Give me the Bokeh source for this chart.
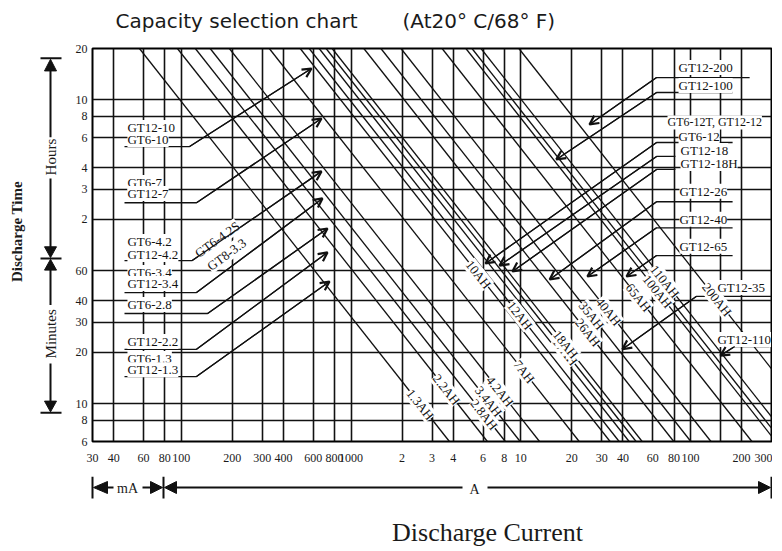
import math
from bokeh.plotting import figure
from bokeh.layouts import column, row
from bokeh.models import FixedTicker, Range1d, Arrow, OpenHead, ColumnDataSource
from bokeh.embed import file_html
from bokeh.resources import INLINE
from bokeh.core.properties import value

SERIF = "Liberation Serif"
SANS = "DejaVu Sans"

# ---------------- axis data ----------------
x_ticks = [0.03, 0.04, 0.06, 0.08, 0.1, 0.2, 0.3, 0.4, 0.6, 0.8, 1, 2, 3, 4, 6, 8,
           10, 20, 30, 40, 60, 80, 100, 200, 300]
x_tick_labels = ["30", "40", "60", "80", "100", "200", "300", "400", "600", "800", "1000",
                 "2", "3", "4", "6", "8", "10", "20", "30", "40", "60", "80", "100", "200", "300"]
x_extra_grid = [150]
y_ticks = [6, 8, 10, 20, 30, 40, 60, 120, 180, 240, 360, 480, 600, 1200]   # minutes
y_tick_labels = ["6", "8", "10", "20", "30", "40", "60", "2", "3", "4", "6", "8", "10", "20"]

# ---------------- capacity lines (A at 20 h, A at 6 min) ----------------
cap_names = ["1.3AH", "2.2AH", "2.8AH", "3.4AH", "4.2AH", "7AH", "10AH", "12AH", "",
             "17AH", "18AH", "26AH", "35AH", "40AH", "65AH", "100AH", "", "110AH", "200AH"]
cap_i_20h = [0.0567, 0.0949, 0.121, 0.148, 0.192, 0.330, 0.502, 0.567, 0.649,
             0.713, 0.774, 1.19, 1.50, 1.97, 3.44, 4.75, 5.16, 5.83, 9.75]
cap_i_6min = [3.80, 6.36, 8.11, 9.92, 12.9, 22.1, 33.6, 38.0, 43.5,
              47.8, 51.9, 79.7, 100.5, 132, 230, 318, 346, 391, 653]
cap_label_t = [9.88, 12.1, 8.63, 10.3, 11.8, 15.4, 57, 32.8, None,
               20.2, 22.2, 26.1, 32.8, 34.6, 41.8, 45.4, None, 51.9, 40.7]

# ---------------- model labels (left group) ----------------
left_text = ["GT12-10", "GT6-10", "GT6-7", "GT12-7", "GT6-4.2", "GT12-4.2", "GT6-3.4",
             "GT12-3.4", "GT6-2.8", "GT12-2.2", "GT6-1.3", "GT12-1.3"]
left_i = [0.0482] * 12
left_t = [413, 352, 197, 170, 89, 74.7, 58.6, 50.5, 38.0, 23.1, 18.4, 15.8]
rot_text = ["GT6-4.2S", "GT8-3.3"]
rot_i = [0.163, 0.185]
rot_t = [91.4, 74.7]
left_lead_i = [[0.0463, 0.112, 0.585], [0.0463, 0.123, 0.670], [0.0463, 0.116, 0.670],
               [0.0463, 0.123, 0.679], [0.0463, 0.143, 0.727], [0.0463, 0.123, 0.727],
               [0.0463, 0.123, 0.747]]
left_lead_t = [[320, 320, 916], [150, 150, 467], [68.8, 68.8, 229], [44.7, 44.7, 159],
               [33.7, 33.7, 106], [20.8, 20.8, 76.8], [14.4, 14.4, 51.9]]

# ---------------- model labels (right group) ----------------
right_text = ["GT12-200", "GT12-100", "GT6-12", "GT12-18", "GT12-18H",
              "GT12-26", "GT12-40", "GT12-65", "GT12-35", "GT12-110"]
right_i = [85.0, 85.0, 85.0, 87.3, 87.3, 86.1, 86.1, 86.1, 144, 144]
right_t = [929, 728, 366, 303, 255, 175, 120, 83.3, 47.8, 23.7]
wide_text = ["GT6-12T, GT12-12"]
wide_i = [73.2]
wide_t = [443]
right_lead_i = [[223, 63.1, 25.4], [177, 63.1, 16.2], [177, 63.1, 6.20], [81.5, 63.1, 7.50],
                [81.5, 63.1, 8.93], [177, 63.1, 14.8], [177, 63.1, 24.7], [177, 63.1, 42.0],
                [300, 108, 39.7], [292, 182, 150]]
right_lead_t = [[811, 811, 431], [663, 663, 269], [338, 338, 66.2], [280, 280, 64.3],
                [235, 235, 59.4], [152, 152, 53.3], [107, 107, 55.5], [73.6, 73.6, 55.5],
                [42.4, 42.4, 20.8], [21.6, 21.6, 19.1]]

# ================= main chart =================
p = figure(width=705, height=438, x_axis_type="log", y_axis_type="log",
           x_range=Range1d(0.03, 300), y_range=Range1d(6, 1200),
           toolbar_location=None, output_backend="svg", title=None,
           min_border_left=25, min_border_right=1, min_border_top=10, min_border_bottom=35)
p.background_fill_color = "white"
p.border_fill_color = "white"
p.outline_line_color = "black"
p.outline_line_width = 2
p.outline_line_alpha = 1

p.xaxis.ticker = FixedTicker(ticks=x_ticks, minor_ticks=[])
p.xaxis.major_label_overrides = dict(zip(x_ticks, x_tick_labels))
p.yaxis.ticker = FixedTicker(ticks=y_ticks, minor_ticks=[])
p.yaxis.major_label_overrides = dict(zip(y_ticks, y_tick_labels))
for ax in (p.xaxis[0], p.yaxis[0]):
    ax.axis_line_color = None
    ax.major_tick_line_color = None
    ax.minor_tick_line_color = None
    ax.major_tick_out = 0
    ax.major_tick_in = 0
    ax.minor_tick_out = 0
    ax.minor_tick_in = 0
    ax.major_label_text_font = SERIF
    ax.major_label_text_font_size = "12px"
    ax.major_label_text_color = "#1a1a1a"
p.xaxis.major_label_standoff = 12
p.yaxis.major_label_standoff = 5

p.xgrid.ticker = FixedTicker(ticks=x_ticks + x_extra_grid, minor_ticks=[])
p.ygrid.ticker = FixedTicker(ticks=y_ticks, minor_ticks=[])
for g in (p.xgrid[0], p.ygrid[0]):
    g.grid_line_color = "#111111"
    g.grid_line_width = 1.6
    g.grid_line_alpha = 1

# capacity lines
cap_src = ColumnDataSource(dict(
    xs=[[a, b] for a, b in zip(cap_i_20h, cap_i_6min)],
    ys=[[1200, 6] for _ in cap_i_20h],
    name=cap_names))
p.multi_line(xs="xs", ys="ys", source=cap_src, line_color="#111111", line_width=1.3)

# leaders
p.multi_line(xs=left_lead_i + right_lead_i, ys=left_lead_t + right_lead_t,
             line_color="#111111", line_width=1.3)

# capacity labels, on their lines
L6, L1200 = math.log10(6), math.log10(1200)
lab_x, lab_y, lab_t = [], [], []
for k, name in enumerate(cap_names):
    if not name:
        continue
    t = cap_label_t[k]
    f = (L1200 - math.log10(t)) / (L1200 - L6)
    li = math.log10(cap_i_20h[k]) + f * (math.log10(cap_i_6min[k]) - math.log10(cap_i_20h[k]))
    lab_x.append(10 ** li)
    lab_y.append(t)
    lab_t.append(name)
p.text(x=lab_x, y=lab_y, text=lab_t, angle=-0.90, text_font=value(SERIF),
       text_font_size=value("13px"), text_align="center", text_baseline="middle",
       text_color="#111111", background_fill_color="white")

# model labels
p.text(x=left_i, y=left_t, text=left_text, text_font=value(SERIF),
       text_font_size=value("13px"), text_align="left", text_baseline="middle",
       text_color="#111111", background_fill_color="white")
p.text(x=rot_i, y=rot_t, text=rot_text, angle=0.63, text_font=value(SERIF),
       text_font_size=value("13px"), text_align="center", text_baseline="middle",
       text_color="#111111", background_fill_color="white")
p.text(x=right_i, y=right_t, text=right_text, text_font=value(SERIF),
       text_font_size=value("13px"), text_align="left", text_baseline="middle",
       text_color="#111111", background_fill_color="white")
p.text(x=wide_i, y=wide_t, text=wide_text, text_font=value(SERIF),
       text_font_size=value("12px"), text_align="left", text_baseline="middle",
       text_color="#111111", background_fill_color="white")

# arrow heads at the leader tips
for xs, ys in zip(left_lead_i + right_lead_i, left_lead_t + right_lead_t):
    p.add_layout(Arrow(end=OpenHead(size=9, line_width=2.2, line_color="#111111"),
                       x_start=xs[1], y_start=ys[1], x_end=xs[2], y_end=ys[2],
                       line_width=1.3, line_color="#111111"))


# ================= decoration canvases (page pixel coordinates) =================
def canvas(w, h, x0, y0):
    f = figure(width=w, height=h, x_range=Range1d(x0, x0 + w), y_range=Range1d(y0 + h, y0),
               toolbar_location=None, output_backend="svg", min_border=0,
               x_axis_location=None, y_axis_location=None, title=None)
    f.grid.visible = False
    f.outline_line_color = None
    f.background_fill_color = "white"
    f.border_fill_color = "white"
    return f


# title
top = canvas(772, 38, 1, 1)
top.text(x=[116, 403], y=[21, 21], text=["Capacity selection chart", "(At20\u00b0 C/68\u00b0 F)"],
         text_font=value(SANS), text_font_size=value("20px"), text_align="left",
         text_baseline="middle", text_color="#1a1a1a")

# left: discharge time arrows
left = canvas(67, 438, 1, 39)
left.segment(x0=[41, 41, 41, 51, 51, 51, 51], y0=[50, 273, 445, 62, 184, 285, 390],
             x1=[62, 62, 62, 51, 51, 51, 51], y1=[50, 273, 445, 138, 261, 325, 433],
             line_color="#111111", line_width=2)
left.patches(xs=[[45, 57, 51], [45, 57, 51], [45, 57, 51], [45, 57, 51]],
             ys=[[64, 64, 51], [260, 260, 272], [286, 286, 274], [432, 432, 444]],
             fill_color="#111111", line_color="#111111")
left.text(x=[51, 51], y=[160, 357], text=["Hours", "Minutes"], angle=math.pi / 2,
          text_font=value(SERIF), text_font_size=value("15px"), text_align="center",
          text_baseline="middle", text_color="#1a1a1a")
left.text(x=[17], y=[243], text=["Discharge Time"], angle=math.pi / 2,
          text_font=value(SERIF), text_font_size=value("15px"), text_font_style="bold",
          text_align="center", text_baseline="middle", text_color="#1a1a1a")

# bottom: current unit arrows + axis title
bot = canvas(772, 72, 1, 477)
bot.segment(x0=[93, 164, 772, 108, 143, 177, 488], y0=[477, 477, 477, 488, 488, 488, 488],
            x1=[93, 164, 772, 114, 151, 463, 760], y1=[499, 499, 499, 488, 488, 488, 488],
            line_color="#111111", line_width=2)
bot.patches(xs=[[108, 108, 94], [151, 151, 163], [177, 177, 165], [759, 759, 771]],
            ys=[[482, 494, 488], [482, 494, 488], [482, 494, 488], [482, 494, 488]],
            fill_color="#111111", line_color="#111111")
bot.text(x=[128, 475], y=[489, 490], text=["mA", "A"], text_font=value(SERIF),
         text_font_size=value("14px"), text_align="center", text_baseline="middle",
         text_color="#1a1a1a")
bot.text(x=[488], y=[533], text=["Discharge Current"], text_font=value(SERIF),
         text_font_size=value("26px"), text_align="center", text_baseline="middle",
         text_color="#1a1a1a")

layout = column(top, row(left, p), bot)
open("out.html", "w").write(file_html(layout, INLINE))
